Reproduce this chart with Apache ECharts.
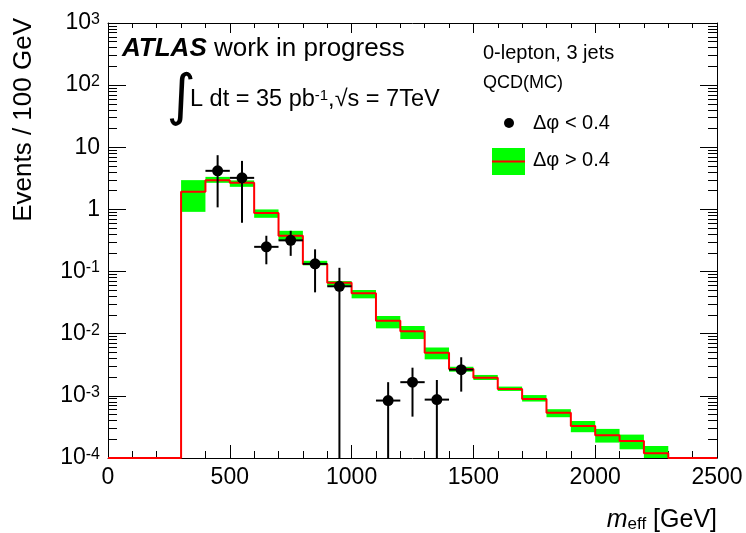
<!DOCTYPE html>
<html><head><meta charset="utf-8">
<script src="https://cdn.jsdelivr.net/npm/echarts@6/dist/echarts.min.js"></script>
<style>html,body{margin:0;padding:0;background:#fff}#c{width:746px;height:533px}</style>
</head><body><div id="c"></div>
<script>
// ---- data ----
const binLow  = [300,400,500,600,700,800,900,1000,1100,1200,1300,1400,1500,1600,1700,1800,1900,2000,2100,2200];
const binHigh = [400,500,600,700,800,900,1000,1100,1200,1300,1400,1500,1600,1700,1800,1900,2000,2100,2200,2300];
const mcValues   = [1.92,2.96,2.68,0.88,0.377,0.132,0.066,0.0446,0.0162,0.0110,0.00496,0.0027,0.00195,0.00129,0.00089,0.000537,0.000328,0.000232,0.000188,0.000119];
const mcBandLow  = [0.914,2.68,2.31,0.733,0.321,0.126,0.059,0.0371,0.0122,0.0082,0.00387,0.00245,0.0018,0.0012,0.00081,0.000453,0.00026,0.000177,0.000138,0.000098];
const mcBandHigh = [2.96,3.34,2.93,1.0,0.453,0.149,0.0703,0.0505,0.0193,0.0133,0.0060,0.00294,0.00217,0.00141,0.00103,0.00061,0.000394,0.000294,0.000238,0.000156];

const dataX    = [450,550,650,750,850,950,1150,1250,1350,1450];
const dataXErr = [50,50,50,50,50,50,50,50,50,50];
const dataY    = [4.18,3.22,0.25,0.318,0.133,0.058,0.00084,0.00166,0.00087,0.00264];
const dataLow  = [1.08,0.61,0.131,0.179,0.0463,0,0,0.000463,0,0.00117];
const dataHigh = [7.46,6.04,0.377,0.453,0.228,0.115,0.00166,0.00284,0.0018,0.00418];

const xTicks = [0,500,1000,1500,2000,2500];
const yDecades = [-4,-3,-2,-1,0,1,2,3];
const yMinorMultipliers = [2,3,4,5,6,7,8,9];
const yMin = 1e-4, yMax = 1e3;

const FONT = 'Liberation Sans';

// ---- derived series data ----
const stepLine = [[xTicks[0], yMin], [binLow[0], yMin]];
for (let i = 0; i < binLow.length; i++) {
  stepLine.push([binLow[i], mcValues[i]]);
  stepLine.push([binHigh[i], mcValues[i]]);
}
stepLine.push([binHigh[binHigh.length-1], yMin]);
stepLine.push([xTicks[xTicks.length-1], yMin]);

const bandData = binLow.map((x, i) => [x, binHigh[i], mcBandLow[i], mcBandHigh[i]]);
const errData = dataX.map((x, i) => [x - dataXErr[i], x + dataXErr[i], x, dataY[i], dataLow[i], dataHigh[i]]);
const pointData = dataX.map((x, i) => [x, dataY[i]]);

// log-axis minor tick values (2..9 x 10^k)
const minorTickValues = [];
for (let d = 0; d < yDecades.length - 1; d++) {
  for (let j = 0; j < yMinorMultipliers.length; j++) {
    minorTickValues.push(Number((yMinorMultipliers[j] * Math.pow(10, yDecades[d])).toPrecision(6)));
  }
}

const chart = echarts.init(document.getElementById('c'), null, {renderer: 'canvas'});

function yLabel(v) {
  const e = Math.round(Math.log10(v));
  if (e === 0) return '1';
  if (e === 1) return '10';
  return '10{sup|' + e + '}';
}

const axisLineStyle = {show: true, onZero: false, lineStyle: {color: '#000', width: 1}};

function minorAxis(pos) {
  return {type: 'log', logBase: 10, min: yMin, max: yMax, position: pos,
    axisLine: {show: false, onZero: false},
    axisTick: {show: true, inside: true, length: 9, customValues: minorTickValues,
               lineStyle: {color: '#000', width: 1}},
    minorTick: {show: false},
    splitLine: {show: false}, axisLabel: {show: false}};
}

const option = {
  animation: false,
  backgroundColor: '#fff',
  grid: {left: 108, right: 29, top: 23, bottom: 75, containLabel: false},
  xAxis: [
    {type: 'value', min: xTicks[0], max: xTicks[xTicks.length-1], interval: 500, position: 'bottom',
     axisLine: axisLineStyle,
     axisTick: {show: true, inside: true, length: 13, lineStyle: {color: '#000', width: 1}},
     minorTick: {show: true, splitNumber: 5, length: 7, lineStyle: {color: '#000', width: 1}},
     splitLine: {show: false},
     axisLabel: {show: true, fontSize: 23, color: '#000', fontFamily: FONT, margin: 8,
                 formatter: v => String(v)}},
    {type: 'value', min: xTicks[0], max: xTicks[xTicks.length-1], interval: 500, position: 'top',
     axisLine: axisLineStyle,
     axisTick: {show: true, inside: true, length: 10, lineStyle: {color: '#000', width: 1}},
     minorTick: {show: true, splitNumber: 5, length: 5, lineStyle: {color: '#000', width: 1}},
     splitLine: {show: false}, axisLabel: {show: false}}
  ],
  yAxis: [
    {type: 'log', logBase: 10, min: yMin, max: yMax, interval: 1, position: 'left',
     axisLine: axisLineStyle,
     axisTick: {show: true, inside: true, length: 18, lineStyle: {color: '#000', width: 1}},
     minorTick: {show: false},
     splitLine: {show: false},
     axisLabel: {show: true, fontSize: 23, color: '#000', fontFamily: FONT, margin: 8,
       formatter: yLabel,
       rich: {sup: {fontSize: 16, fontFamily: FONT, color: '#000', verticalAlign: 'top'}}}},
    {type: 'log', logBase: 10, min: yMin, max: yMax, interval: 1, position: 'right',
     axisLine: axisLineStyle,
     axisTick: {show: true, inside: true, length: 17, lineStyle: {color: '#000', width: 1}},
     minorTick: {show: false},
     splitLine: {show: false}, axisLabel: {show: false}},
    minorAxis('left'),
    minorAxis('right')
  ],
  series: [
    {type: 'custom', name: 'band', xAxisIndex: 0, yAxisIndex: 0, z: 2,
     data: bandData, encode: {x: [0, 1], y: [2, 3]},
     renderItem: function (params, api) {
       const lo = Math.max(api.value(2), yMin);
       const p0 = api.coord([api.value(0), api.value(3)]);
       const p1 = api.coord([api.value(1), lo]);
       return {type: 'rect', shape: {x: p0[0], y: p0[1], width: p1[0] - p0[0], height: p1[1] - p0[1]},
               style: {fill: '#00ff00'}};
     }},
    {type: 'line', name: 'mc', xAxisIndex: 0, yAxisIndex: 0, z: 3, data: stepLine,
     showSymbol: false, symbol: 'none', lineStyle: {color: '#ff0000', width: 2}},
    {type: 'custom', name: 'err', xAxisIndex: 0, yAxisIndex: 0, z: 4,
     data: errData, encode: {x: [0, 1], y: [3]},
     renderItem: function (params, api) {
       const y = api.value(3);
       const lo = api.value(4) > 0 ? api.value(4) : yMin;
       const hi = api.value(5);
       const a = api.coord([api.value(0), y]);
       const b = api.coord([api.value(1), y]);
       const c = api.coord([api.value(2), hi]);
       const d = api.coord([api.value(2), lo]);
       return {type: 'group', children: [
         {type: 'line', shape: {x1: a[0], y1: a[1], x2: b[0], y2: b[1]}, style: {stroke: '#000', lineWidth: 2}},
         {type: 'line', shape: {x1: c[0], y1: c[1], x2: d[0], y2: d[1]}, style: {stroke: '#000', lineWidth: 2}}
       ]};
     }},
    {type: 'scatter', name: 'data', xAxisIndex: 0, yAxisIndex: 0, z: 5, data: pointData,
     symbol: 'circle', symbolSize: 11, itemStyle: {color: '#000', opacity: 1}}
  ],
  graphic: [
    {type: 'text', x: 122, y: 49, style: {
      text: '{a|ATLAS}{b| work in progress}', textVerticalAlign: 'middle',
      rich: {a: {fontFamily: FONT, fontSize: 26, fontWeight: 'bold', fontStyle: 'italic', fill: '#000'},
             b: {fontFamily: FONT, fontSize: 26, fill: '#000'}}}},
    {type: 'text', x: 181, y: 99, style: {
      text: '∫', fontFamily: 'DejaVu Sans', fontSize: 56, fill: '#000',
      textAlign: 'center', textVerticalAlign: 'middle'}},
    {type: 'text', x: 190, y: 100, style: {
      text: '{t|L dt = 35 pb}{s|-1}{t|,√s = 7TeV}', textVerticalAlign: 'middle',
      rich: {t: {fontFamily: FONT, fontSize: 23.5, fill: '#000'},
             s: {fontFamily: FONT, fontSize: 15, fill: '#000', verticalAlign: 'top'}}}},
    {type: 'text', x: 483, y: 53, style: {
      text: '0-lepton, 3 jets', fontFamily: FONT, fontSize: 20, fill: '#000', textVerticalAlign: 'middle'}},
    {type: 'text', x: 483, y: 83, style: {
      text: 'QCD(MC)', fontFamily: FONT, fontSize: 18, fill: '#000', textVerticalAlign: 'middle'}},
    {type: 'circle', shape: {cx: 509, cy: 123, r: 5}, style: {fill: '#000'}},
    {type: 'text', x: 533, y: 123, style: {
      text: 'Δφ < 0.4', fontFamily: FONT, fontSize: 20, fill: '#000', textVerticalAlign: 'middle'}},
    {type: 'rect', shape: {x: 492, y: 148, width: 33, height: 27}, style: {fill: '#00ff00'}},
    {type: 'line', shape: {x1: 492, y1: 161.5, x2: 525, y2: 161.5}, style: {stroke: '#ff0000', lineWidth: 2}},
    {type: 'text', x: 533, y: 160, style: {
      text: 'Δφ > 0.4', fontFamily: FONT, fontSize: 20, fill: '#000', textVerticalAlign: 'middle'}},
    {type: 'text', x: 24, y: 18, rotation: Math.PI / 2, style: {
      text: 'Events / 100 GeV', fontFamily: FONT, fontSize: 26, fill: '#000',
      textAlign: 'right', textVerticalAlign: 'middle'}},
    {type: 'text', x: 717, y: 520, style: {
      text: '{i|m}{s|eff}{t| [GeV]}', textAlign: 'right', textVerticalAlign: 'middle',
      rich: {i: {fontFamily: FONT, fontSize: 25, fontStyle: 'italic', fill: '#000'},
             s: {fontFamily: FONT, fontSize: 17, fill: '#000', verticalAlign: 'bottom'},
             t: {fontFamily: FONT, fontSize: 25, fill: '#000'}}}}
  ]
};
chart.setOption(option);
</script>
</body></html>
